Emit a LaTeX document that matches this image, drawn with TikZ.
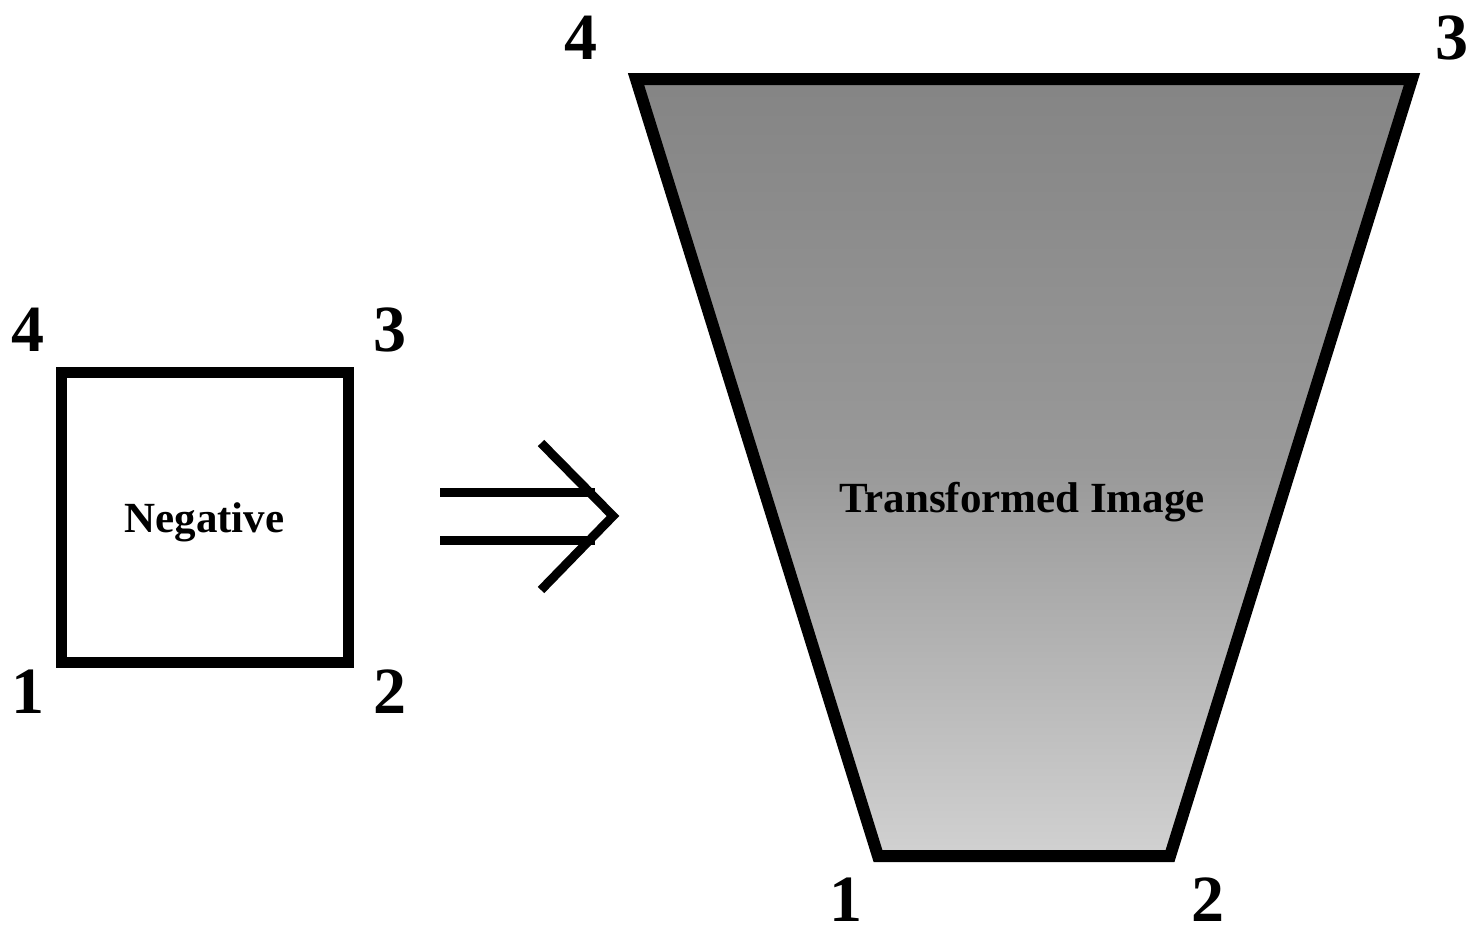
\documentclass[tikz,border=0pt]{standalone}
\usepackage{fontspec}
\setmainfont{Liberation Serif}
\begin{document}
\begin{tikzpicture}[x=0.5pt,y=-0.5pt,
  numlbl/.style={font=\fontsize{33}{36}\selectfont\bfseries, inner sep=0pt},
  boxtxt/.style={font=\fontsize{21.5}{24}\selectfont\bfseries, inner sep=0pt},
  frame/.style={draw=black, line width=5.5pt, line join=miter},
  arrowline/.style={draw=black, line width=4.5pt}]
\useasboundingbox (0,0) rectangle (1470,937);
\fill[white] (0,0) rectangle (1470,937);
% negative square
\node[frame, minimum width=143.5pt, minimum height=145pt, inner sep=0pt] (neg) at (204.5,517) {};
\node[boxtxt] (negtxt) at (204.5,522) {Negative};
\node[numlbl] (n4) at (28,330) {4};
\node[numlbl] (n3) at (390,330) {3};
\node[numlbl] (n1) at (28,692) {1};
\node[numlbl] (n2) at (390,692) {2};
% double arrow
\coordinate (a1s) at (440,492);
\coordinate (a1e) at (595,492);
\coordinate (a2s) at (440,540);
\coordinate (a2e) at (595,540);
\coordinate (ctop) at (541,443);
\coordinate (ctip) at (613,516);
\coordinate (cbot) at (541,590);
\draw[arrowline] (a1s) -- (a1e);
\draw[arrowline] (a2s) -- (a2e);
\draw[arrowline, line join=miter] (ctop) -- (ctip) -- (cbot);
% trapezoid
\coordinate (t4) at (636,79);
\coordinate (t3) at (1412,79);
\coordinate (t2) at (1170,856);
\coordinate (t1) at (878,856);
\shade[top color=black!48, bottom color=black!18, middle color=black!40] (t4) -- (t3) -- (t2) -- (t1) -- cycle;
\draw[frame, line width=6pt] (t4) -- (t3) -- (t2) -- (t1) -- cycle;
\node[boxtxt] (ttxt) at (1022,502) {Transformed Image};
\node[numlbl] (m4) at (581,38) {4};
\node[numlbl] (m3) at (1452,38) {3};
\node[numlbl] (m1) at (846,900) {1};
\node[numlbl] (m2) at (1208,900) {2};
\end{tikzpicture}
\end{document}
